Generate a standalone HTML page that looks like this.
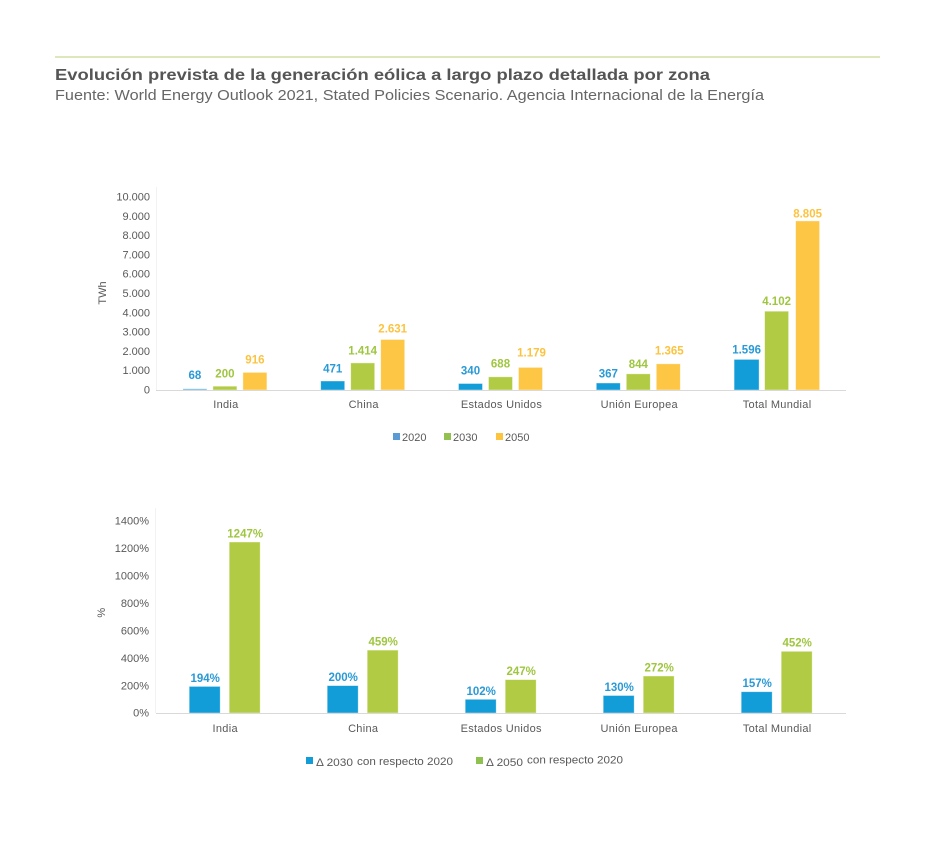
<!DOCTYPE html>
<html>
<head>
<meta charset="utf-8">
<style>
  html,body{margin:0;padding:0;background:#fff;}
  svg{display:block;}
  text{font-family:"Liberation Sans",Arial,sans-serif;}
  .tk{font-size:11px;fill:#595959;}
  .cat{font-size:11px;fill:#595959;letter-spacing:0.3px;}
  .lb{font-size:11.5px;font-weight:bold;}
  .b{fill:#2a9ad6;} .g{fill:#9fc640;} .y{fill:#fcc340;}
</style>
</head>
<body>
<svg width="935" height="850" viewBox="0 0 935 850" xmlns="http://www.w3.org/2000/svg">
  <rect width="935" height="850" fill="#fff"/>
  <!-- header -->
  <rect x="55" y="56" width="825" height="2" fill="#dce7bb"/>
  <text x="55" y="80" font-size="16" font-weight="bold" fill="#555" textLength="655" lengthAdjust="spacingAndGlyphs">Evolución prevista de la generación eólica a largo plazo detallada por zona</text>
  <text x="55" y="100" font-size="14.5" fill="#666" textLength="709" lengthAdjust="spacingAndGlyphs">Fuente: World Energy Outlook 2021, Stated Policies Scenario. Agencia Internacional de la Energía</text>

  <!-- ===== TOP CHART ===== -->
  <line x1="156.5" y1="187" x2="156.5" y2="390" stroke="#f2f2f2" stroke-width="1"/>
  <g class="tk" text-anchor="end">
    <text x="150" y="200.7">10.000</text>
    <text x="150" y="220">9.000</text>
    <text x="150" y="239.2">8.000</text>
    <text x="150" y="258.5">7.000</text>
    <text x="150" y="277.7">6.000</text>
    <text x="150" y="297">5.000</text>
    <text x="150" y="316.3">4.000</text>
    <text x="150" y="335.5">3.000</text>
    <text x="150" y="354.8">2.000</text>
    <text x="150" y="374">1.000</text>
    <text x="150" y="393.3">0</text>
  </g>
  <text class="tk" transform="translate(106,293) rotate(-90)" text-anchor="middle">TWh</text>

  <!-- bars top -->
  <g stroke="#fff" stroke-opacity="0.5" stroke-width="0.8">
    <!-- India -->
    <rect x="182.9" y="388.7" width="24" height="1.3" fill="#6cb4e2"/>
    <rect x="212.9" y="386.2" width="24" height="3.8" fill="#b1cc44"/>
    <rect x="242.9" y="372.4" width="24" height="17.6" fill="#fdc645"/>
    <!-- China -->
    <rect x="320.7" y="381" width="24" height="9" fill="#129cd8"/>
    <rect x="350.7" y="362.9" width="24" height="27.1" fill="#b1cc44"/>
    <rect x="380.7" y="339.5" width="24" height="50.5" fill="#fdc645"/>
    <!-- EEUU -->
    <rect x="458.5" y="383.5" width="24" height="6.5" fill="#129cd8"/>
    <rect x="488.5" y="376.8" width="24" height="13.2" fill="#b1cc44"/>
    <rect x="518.5" y="367.4" width="24" height="22.6" fill="#fdc645"/>
    <!-- UE -->
    <rect x="596.3" y="383" width="24" height="7" fill="#129cd8"/>
    <rect x="626.3" y="373.8" width="24" height="16.2" fill="#b1cc44"/>
    <rect x="656.3" y="363.8" width="24" height="26.2" fill="#fdc645"/>
    <!-- Total -->
    <rect x="734.1" y="359.4" width="25" height="30.6" fill="#129cd8"/>
    <rect x="764.6" y="311.2" width="24" height="78.8" fill="#b1cc44"/>
    <rect x="795.6" y="220.9" width="24" height="169.1" fill="#fdc645"/>
  </g>
  <line x1="156" y1="390.5" x2="846" y2="390.5" stroke="#d9d9d9" stroke-width="1"/>

  <!-- labels top -->
  <g class="lb" text-anchor="middle">
    <text class="b" x="194.9" y="379">68</text>
    <text class="g" x="224.9" y="377.3">200</text>
    <text class="y" x="254.9" y="363.3">916</text>
    <text class="b" x="332.7" y="372.3">471</text>
    <text class="g" x="362.7" y="354.7">1.414</text>
    <text class="y" x="392.7" y="332.3">2.631</text>
    <text class="b" x="470.5" y="374.7">340</text>
    <text class="g" x="500.5" y="367.3">688</text>
    <text class="y" x="531.5" y="356.7">1.179</text>
    <text class="b" x="608.3" y="377.3">367</text>
    <text class="g" x="638.3" y="368">844</text>
    <text class="y" x="669.3" y="354.7">1.365</text>
    <text class="b" x="746.6" y="353.3">1.596</text>
    <text class="g" x="776.6" y="305">4.102</text>
    <text class="y" x="807.6" y="217.3">8.805</text>
  </g>

  <!-- categories top -->
  <g class="cat" text-anchor="middle">
    <text x="225.9" y="408">India</text>
    <text x="363.7" y="408">China</text>
    <text x="501.5" y="408">Estados Unidos</text>
    <text x="639.3" y="408">Unión Europea</text>
    <text x="777.1" y="408">Total Mundial</text>
  </g>

  <!-- legend top -->
  <rect x="393" y="433" width="7" height="7" fill="#5b9bd5"/>
  <text class="tk" x="402" y="441">2020</text>
  <rect x="444" y="433" width="7" height="7" fill="#92c150"/>
  <text class="tk" x="453" y="441">2030</text>
  <rect x="496" y="433" width="7" height="7" fill="#fdc440"/>
  <text class="tk" x="505" y="441">2050</text>

  <!-- ===== BOTTOM CHART ===== -->
  <line x1="155.5" y1="508" x2="155.5" y2="713" stroke="#f2f2f2" stroke-width="1"/>
  <g class="tk" text-anchor="end">
    <text x="149" y="524.7">1400%</text>
    <text x="149" y="552.1">1200%</text>
    <text x="149" y="579.6">1000%</text>
    <text x="149" y="607">800%</text>
    <text x="149" y="634.4">600%</text>
    <text x="149" y="661.8">400%</text>
    <text x="149" y="689.3">200%</text>
    <text x="149" y="716.7">0%</text>
  </g>
  <text class="tk" transform="translate(105,612.7) rotate(-90)" text-anchor="middle">%</text>

  <g stroke="#fff" stroke-opacity="0.5" stroke-width="0.8">
    <rect x="189.2" y="686.4" width="31" height="26.6" fill="#129cd8"/>
    <rect x="229.2" y="542" width="31" height="171" fill="#b1cc44"/>
    <rect x="327.2" y="685.6" width="31" height="27.4" fill="#129cd8"/>
    <rect x="367.2" y="650.1" width="31" height="62.9" fill="#b1cc44"/>
    <rect x="465.2" y="699.3" width="31" height="13.7" fill="#129cd8"/>
    <rect x="505.2" y="679.6" width="31" height="33.4" fill="#b1cc44"/>
    <rect x="603.2" y="695.5" width="31" height="17.5" fill="#129cd8"/>
    <rect x="643.2" y="676" width="31" height="37" fill="#b1cc44"/>
    <rect x="741.2" y="691.7" width="31" height="21.3" fill="#129cd8"/>
    <rect x="781.2" y="651.3" width="31" height="61.7" fill="#b1cc44"/>
  </g>
  <line x1="156" y1="713.5" x2="846" y2="713.5" stroke="#d9d9d9" stroke-width="1"/>

  <g class="lb" text-anchor="middle">
    <text class="b" x="205.2" y="682">194%</text>
    <text class="g" x="245.2" y="537.5">1247%</text>
    <text class="b" x="343.2" y="681.2">200%</text>
    <text class="g" x="383.2" y="645.6">459%</text>
    <text class="b" x="481.2" y="694.8">102%</text>
    <text class="g" x="521.2" y="675.1">247%</text>
    <text class="b" x="619.2" y="691">130%</text>
    <text class="g" x="659.2" y="671.5">272%</text>
    <text class="b" x="757.2" y="687.2">157%</text>
    <text class="g" x="797.2" y="646.5">452%</text>
  </g>

  <g class="cat" text-anchor="middle">
    <text x="225.2" y="732">India</text>
    <text x="363.2" y="732">China</text>
    <text x="501.2" y="732">Estados Unidos</text>
    <text x="639.2" y="732">Unión Europea</text>
    <text x="777.2" y="732">Total Mundial</text>
  </g>

  <!-- legend bottom -->
  <rect x="306" y="757" width="7" height="7" fill="#129cd8"/>
  <text class="tk" x="316" y="766" textLength="37" lengthAdjust="spacingAndGlyphs">Δ 2030</text>
  <text class="tk" x="357" y="765" textLength="96" lengthAdjust="spacingAndGlyphs">con respecto 2020</text>
  <rect x="476" y="757" width="7" height="7" fill="#8fc14e"/>
  <text class="tk" x="486" y="766" textLength="37" lengthAdjust="spacingAndGlyphs">Δ 2050</text>
  <text class="tk" x="527" y="763.5" textLength="96" lengthAdjust="spacingAndGlyphs">con respecto 2020</text>
</svg>
</body>
</html>
